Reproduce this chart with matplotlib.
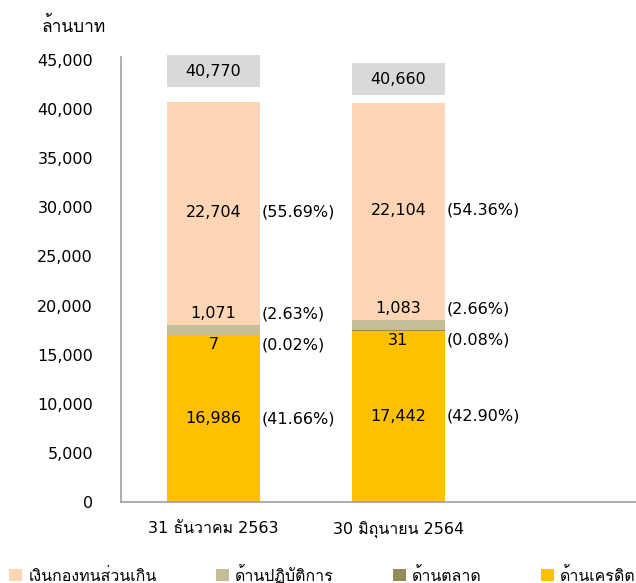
import matplotlib
matplotlib.use('Agg')
import matplotlib.pyplot as plt
from matplotlib import font_manager
from matplotlib.ft2font import FT2Font

# หา font ที่มีอักษรไทย
def find_thai_font():
    for f in font_manager.fontManager.ttflist:
        try:
            if 0x0E01 in FT2Font(f.fname).get_charmap():
                return f.name
        except Exception:
            pass
    return None

thai = find_thai_font()
fam = ['DejaVu Sans'] + ([thai] if thai else [])
plt.rcParams['font.family'] = fam

# ข้อมูล
categories = ['31 ธันวาคม 2563', '30 มิถุนายน 2564']
credit = [16986, 17442]
market = [7, 31]
operational = [1071, 1083]
excess = [22704, 22104]
totals = [40770, 40660]
pct_credit = ['(41.66%)', '(42.90%)']
pct_market = ['(0.02%)', '(0.08%)']
pct_oper = ['(2.63%)', '(2.66%)']
pct_excess = ['(55.69%)', '(54.36%)']
series_names = ['เงินกองทนส่วนเกิน', 'ด้านปฏิบัติการ', 'ด้านตลาด', 'ด้านเครดิต']

c_excess = '#FCD5B5'
c_oper = '#C4BD97'
c_market = '#948A54'
c_credit = '#FFC000'

fig = plt.figure(figsize=(6.36, 5.83), dpi=100)
ax = fig.add_axes([0.19, 0.139, 0.81, 0.758])

x = [0, 1]
w = 0.5
b1 = [credit[i] for i in x]
b2 = [credit[i] + market[i] for i in x]
b3 = [b2[i] + operational[i] for i in x]

ax.bar(x, credit, w, color=c_credit, label=series_names[3])
ax.bar(x, market, w, bottom=b1, color=c_market, label=series_names[2])
ax.bar(x, operational, w, bottom=b2, color=c_oper, label=series_names[1])
ax.bar(x, excess, w, bottom=b3, color=c_excess, label=series_names[0])

fs = 11.5
for i in x:
    # ตัวเลขในแท่ง
    ycr = credit[i] / 2
    ax.text(i, ycr, f'{credit[i]:,}', ha='center', va='center', fontsize=fs)
    ax.text(i + 0.26, ycr, pct_credit[i], ha='left', va='center', fontsize=fs)
    ymk = b1[i] - 1000
    ax.text(i, ymk, f'{market[i]:,}', ha='center', va='center', fontsize=fs)
    ax.text(i + 0.26, ymk, pct_market[i], ha='left', va='center', fontsize=fs)
    yop = b3[i] + 1100
    ax.text(i, yop, f'{operational[i]:,}', ha='center', va='center', fontsize=fs)
    ax.text(i + 0.26, yop, pct_oper[i], ha='left', va='center', fontsize=fs)
    yex = b3[i] + excess[i] / 2 + 100
    ax.text(i, yex, f'{excess[i]:,}', ha='center', va='center', fontsize=fs)
    ax.text(i + 0.26, yex, pct_excess[i], ha='left', va='center', fontsize=fs)

# กล่องยอดรวม
box_mid = [totals[0] + 3100, totals[1] + 2400]
for i in x:
    ax.bar(i, 3250, w, bottom=box_mid[i] - 1625, color='#D9D9D9', clip_on=False)
    ax.text(i, box_mid[i], f'{totals[i]:,}', ha='center', va='center', fontsize=fs)

ax.set_ylim(0, 45000)
ax.set_xlim(-0.5, 2.284)
ax.set_yticks(range(0, 45001, 5000))
ax.set_yticklabels([f'{v:,}' for v in range(0, 45001, 5000)], fontsize=fs)
ax.set_xticks(x)
ax.set_xticklabels(categories, fontsize=fs)
ax.tick_params(axis='y', length=0, pad=20)
ax.tick_params(axis='x', length=0, pad=14)
for s in ['top', 'right']:
    ax.spines[s].set_visible(False)
for s in ['left', 'bottom']:
    ax.spines[s].set_color('#A0A0A0')
    ax.spines[s].set_linewidth(1.2)
ax.spines['left'].set_bounds(0, 45300)

fig.text(0.066, 0.955, 'ล้านบาท', fontsize=12.5, ha='left', va='center')

handles, labels = ax.get_legend_handles_labels()
fig.legend(handles[::-1][:4], labels[::-1][:4], ncol=4, loc='center left',
           bbox_to_anchor=(-0.008, 0.016), frameon=False, fontsize=fs,
           handlelength=0.8, handleheight=0.8, handletextpad=0.4, columnspacing=3.7)

fig.savefig('out.png', dpi=100)
